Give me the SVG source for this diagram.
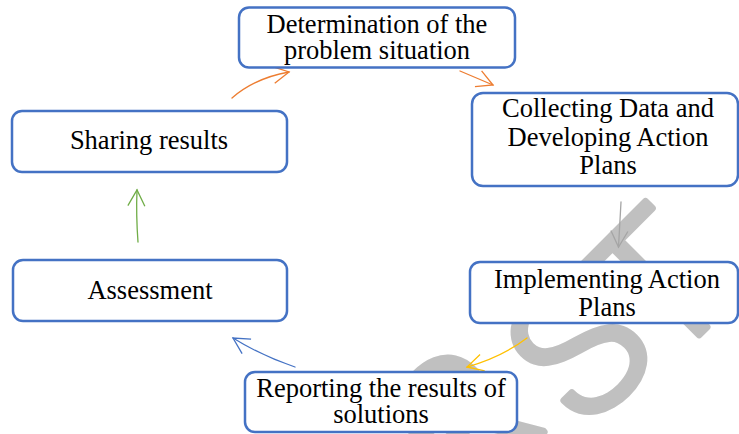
<svg xmlns="http://www.w3.org/2000/svg" width="739" height="434" viewBox="0 0 739 434">
  <style>
    .box { fill: #ffffff; stroke: #4472C4; stroke-width: 2.5; }
    .lbl { font-family: "Liberation Serif", "Times New Roman", serif; font-size: 26.5px; fill: #000000; text-anchor: middle; }
    .wm { font-family: Roboto, "Liberation Sans", sans-serif; font-weight: 300; font-size: 186px; fill: #C0C0C0; stroke: #C0C0C0; stroke-width: 7; stroke-linejoin: round; stroke-linecap: round; text-anchor: middle; }
    .c { fill: none; stroke-width: 1.3; stroke-linecap: round; }
  </style>
  <defs>
    <marker id="aO" markerUnits="userSpaceOnUse" markerWidth="40" markerHeight="40" refX="0" refY="0" orient="auto" overflow="visible">
      <path d="M-16,-8.5 L0,0 L-16,8.5" fill="none" stroke="#ED7D31" stroke-width="1.3"/>
    </marker>
    <marker id="aG" markerUnits="userSpaceOnUse" markerWidth="40" markerHeight="40" refX="0" refY="0" orient="auto" overflow="visible">
      <path d="M-16,-8.5 L0,0 L-16,8.5" fill="none" stroke="#A5A5A5" stroke-width="1.3"/>
    </marker>
    <marker id="aY" markerUnits="userSpaceOnUse" markerWidth="40" markerHeight="40" refX="0" refY="0" orient="auto" overflow="visible">
      <path d="M-16,-8.5 L0,0 L-16,8.5" fill="none" stroke="#FFC000" stroke-width="1.3"/>
    </marker>
    <marker id="aB" markerUnits="userSpaceOnUse" markerWidth="40" markerHeight="40" refX="0" refY="0" orient="auto" overflow="visible">
      <path d="M-16,-8.5 L0,0 L-16,8.5" fill="none" stroke="#4472C4" stroke-width="1.3"/>
    </marker>
    <marker id="aN" markerUnits="userSpaceOnUse" markerWidth="40" markerHeight="40" refX="0" refY="0" orient="auto" overflow="visible">
      <path d="M-16,-8.5 L0,0 L-16,8.5" fill="none" stroke="#70AD47" stroke-width="1.3"/>
    </marker>
  </defs>

  <rect width="739" height="434" fill="#ffffff"/>

  <g id="watermark">
    <text class="wm" transform="translate(508,468) rotate(-45)">R</text>
    <text class="wm" transform="translate(624,394) rotate(-45)">S</text>
    <text class="wm" transform="translate(703,331) rotate(-45)">T</text>
  </g>

  <g id="connectors">
    <path class="c" stroke="#ED7D31" d="M232,98 Q255,78 289,72" marker-end="url(#aO)"/>
    <path class="c" stroke="#ED7D31" d="M460,71 L493,85" marker-end="url(#aO)"/>
    <path class="c" stroke="#A5A5A5" d="M621,202 L618.5,247" marker-end="url(#aG)"/>
    <path class="c" stroke="#FFC000" d="M527,338 Q502,357 467,367" marker-end="url(#aY)"/>
    <path class="c" stroke="#4472C4" d="M295,367 Q262,356 233,338" marker-end="url(#aB)"/>
    <path class="c" stroke="#70AD47" d="M138,242 Q136,215 137,190" marker-end="url(#aN)"/>
  </g>

  <g id="n1">
    <rect class="box" x="239" y="7.5" width="276" height="60" rx="10"/>
    <text class="lbl" x="377" y="33">Determination of the</text>
    <text class="lbl" x="377" y="59">problem situation</text>
  </g>
  <g id="n2">
    <rect class="box" x="472" y="93" width="266" height="93" rx="11"/>
    <text class="lbl" x="608" y="117">Collecting Data and</text>
    <text class="lbl" x="608" y="145.5">Developing Action</text>
    <text class="lbl" x="608" y="174">Plans</text>
  </g>
  <g id="n3">
    <rect class="box" x="470" y="262" width="268" height="61" rx="10"/>
    <text class="lbl" x="607" y="288">Implementing Action</text>
    <text class="lbl" x="607" y="316">Plans</text>
  </g>
  <g id="n4">
    <rect class="box" x="245" y="372" width="272" height="60" rx="10"/>
    <text class="lbl" x="381" y="396.5">Reporting the results of</text>
    <text class="lbl" x="381" y="422.5">solutions</text>
  </g>
  <g id="n5">
    <rect class="box" x="13" y="260" width="274" height="61" rx="10"/>
    <text class="lbl" x="150" y="299">Assessment</text>
  </g>
  <g id="n6">
    <rect class="box" x="12" y="111" width="275" height="61" rx="10"/>
    <text class="lbl" x="149" y="149">Sharing results</text>
  </g>
</svg>
